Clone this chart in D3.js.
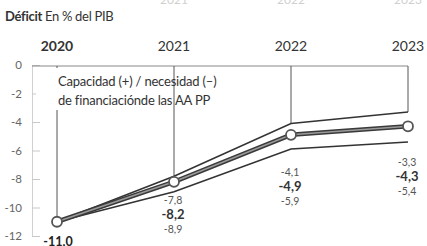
<!DOCTYPE html>
<html>
<head>
<meta charset="utf-8">
<script src="https://cdn.jsdelivr.net/npm/d3@7"></script>
<style>
  body { margin: 0; background: #fff; }
  svg { display: block; font-family: Lato, "Open Sans", sans-serif; }
</style>
</head>
<body>
<svg id="chart"></svg>
<script>
const years = ['2020', '2021', '2022', '2023'];
const central = [-11.0, -8.2, -4.9, -4.3];
const upper = [-11.0, -7.8, -4.1, -3.3];
const lower = [-11.0, -8.9, -5.9, -5.4];
const yTicks = [0, -2, -4, -6, -8, -10, -12];

const width = 427, height = 246;

const svg = d3.select('#chart')
  .attr('width', width)
  .attr('height', height);

const x = d3.scalePoint().domain(years).range([57, 408]);
const y = d3.scaleLinear().domain([0, -12]).range([65, 236]);

const fmt = v => (v < 0 ? '-' : '') + Math.abs(v).toFixed(1).replace('.', ',');

// faint ghost text at top (bleed from the page)
svg.append('g').selectAll('text')
  .data(years.slice(1))
  .enter().append('text')
  .attr('x', d => x(d))
  .attr('y', 4)
  .attr('text-anchor', 'middle')
  .attr('font-size', 12)
  .attr('fill', '#cfcfcf')
  .text(d => d);

// title
const title = svg.append('text').attr('x', 5).attr('y', 21).attr('font-size', 13).attr('fill', '#333');
title.append('tspan').attr('font-weight', 700).attr('letter-spacing', -0.3).text('Déficit');
title.append('tspan').attr('letter-spacing', -0.3).text(' En % del PIB');

// year header
svg.append('g').selectAll('text')
  .data(years)
  .enter().append('text')
  .attr('x', d => x(d))
  .attr('y', 51)
  .attr('text-anchor', 'middle')
  .attr('font-size', 14)
  .attr('font-weight', (d, i) => i === 0 ? 700 : 400)
  .attr('fill', '#333')
  .text(d => d);

// y axis
const yAxis = d3.axisRight(y)
  .tickValues(yTicks)
  .tickSize(8)
  .tickFormat(d => String(d));
const ay = svg.append('g').attr('transform', 'translate(32,0)').call(yAxis);
ay.select('.domain').attr('stroke', '#d0d0d0');
ay.selectAll('.tick line').attr('stroke', '#c8c8c8');
ay.selectAll('.tick text')
  .attr('x', -10)
  .attr('text-anchor', 'end')
  .attr('font-size', 11.5)
  .attr('font-family', 'Lato, sans-serif')
  .attr('fill', '#666');

// zero line
svg.append('line')
  .attr('x1', 32).attr('x2', x('2023'))
  .attr('y1', y(0) + 1).attr('y2', y(0) + 1)
  .attr('stroke', '#888').attr('stroke-width', 1);

// vertical guides from zero to the upper bound
svg.append('g').selectAll('line')
  .data(years)
  .enter().append('line')
  .attr('x1', d => x(d)).attr('x2', d => x(d))
  .attr('y1', y(0) + 1)
  .attr('y2', (d, i) => y(upper[i]))
  .attr('stroke', '#555').attr('stroke-width', 1);

// label box
svg.append('rect')
  .attr('x', 36).attr('y', 68).attr('width', 136).attr('height', 42)
  .attr('fill', '#fff');
const lab = svg.append('text').attr('font-size', 13).attr('fill', '#333').attr('letter-spacing', -0.2);
lab.append('tspan').attr('x', 58).attr('y', 86).text('Capacidad (+) / necesidad (–)');
lab.append('tspan').attr('x', 58).attr('y', 105).text('de financiaciónde las AA PP');

const line = d3.line()
  .x((d, i) => x(years[i]))
  .y(d => y(d));

[upper, lower].forEach(s => {
  svg.append('path')
    .attr('d', line(s))
    .attr('fill', 'none')
    .attr('stroke', '#333')
    .attr('stroke-width', 1.6);
});

svg.append('path')
  .attr('d', line(central))
  .attr('fill', 'none')
  .attr('stroke', '#3a3a3a')
  .attr('stroke-width', 4.5);
svg.append('path')
  .attr('d', line(central))
  .attr('fill', 'none')
  .attr('stroke', '#9a9a9a')
  .attr('stroke-width', 1.6);

svg.append('g').selectAll('circle')
  .data(central)
  .enter().append('circle')
  .attr('cx', (d, i) => x(years[i]))
  .attr('cy', d => y(d))
  .attr('r', 5)
  .attr('fill', '#fff')
  .attr('stroke', '#555')
  .attr('stroke-width', 1.8);

// value labels (first year has a single value)
const labelTop = [243, 204, 176, 166];
svg.append('text')
  .attr('x', x(years[0]) + 1).attr('y', labelTop[0] + 3)
  .attr('text-anchor', 'middle')
  .attr('font-size', 12.5).attr('font-weight', 700).attr('fill', '#222')
  .text(fmt(central[0]));

years.slice(1).forEach((yr, j) => {
  const i = j + 1;
  const g = svg.append('g').attr('text-anchor', 'middle');
  g.append('text').attr('x', x(yr) - 1).attr('y', labelTop[i]).attr('font-size', 10.5).attr('fill', '#555').text(fmt(upper[i]));
  g.append('text').attr('x', x(yr) - 1).attr('y', labelTop[i] + 15).attr('font-size', 13).attr('font-weight', 700).attr('fill', '#333').text(fmt(central[i]));
  g.append('text').attr('x', x(yr) - 1).attr('y', labelTop[i] + 29).attr('font-size', 10.5).attr('fill', '#555').text(fmt(lower[i]));
});
</script>
</body>
</html>
